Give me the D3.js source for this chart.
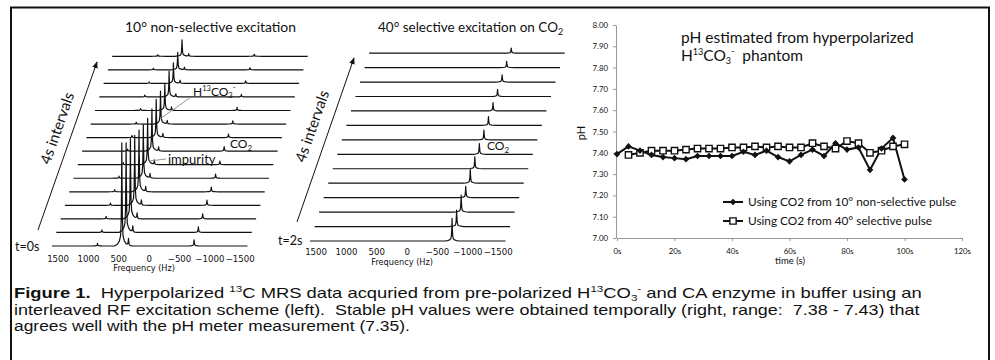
<!DOCTYPE html>
<html>
<head>
<meta charset="utf-8">
<script src="https://cdn.jsdelivr.net/npm/d3@7"></script>
<style>
  body { margin: 0; background: #fff; }
  svg { display: block; }
  text { font-family: Lato, "Open Sans", sans-serif; fill: #111; }
  .cap text { font-family: "Liberation Sans", Arial, sans-serif; white-space: pre; }
  .freq { font-family: "DejaVu Sans", sans-serif; }
</style>
</head>
<body>
<svg id="fig" width="995" height="360"></svg>
<script>
// ---- spectra data (heights in arbitrary units, t=0s / t=2s first) ----
const freqTicks = [1500, 1000, 500, 0, -500, -1000, -1500];
const lineOffsets = [-120, -70, -40, -20, -10, -4, 0, 4, 10, 20, 40, 70, 120];   // Hz from peak centre
const lineShape   = [0, 0.02, 0.05, 0.1, 0.25, 0.6, 1, 0.6, 0.25, 0.1, 0.05, 0.02, 0];

const nsBicarb   = [100, 87, 78, 68, 60, 52, 45, 41, 37, 32, 26, 25, 20, 17, 16];
const nsImpurity = [7, 6, 5.5, 5, 5, 4.5, 4.5, 4, 4, 3.5, 3.5, 3, 3, 2.5, 2.5];
const nsCO2      = [6, 5.5, 5, 5, 4.5, 4, 3.5, 4.5, 3.5, 3, 3, 2.5, 2.5, 2, 2];
const nsMinor    = [2.5, 2.5, 2.5, 2.2, 2.2, 2, 2, 2, 2, 1.8, 1.8, 1.8, 1.5, 1.5, 1.5];
const selCO2     = [22, 16, 16.5, 11, 13.5, 11.5, 10.5, 9.5, 8.5, 8, 7, 7, 6, 5];

// ---- pH data ----
const timeNonSel = [0, 4, 8, 12, 16, 20, 24, 28, 32, 36, 40, 44, 48, 52, 56, 60, 64, 68, 72, 76, 80, 84, 88, 92, 96, 100];
const phNonSel   = [7.394, 7.43, 7.41, 7.39, 7.38, 7.375, 7.37, 7.385, 7.385, 7.385, 7.385, 7.405, 7.39, 7.41, 7.38, 7.36,
                    7.39, 7.415, 7.385, 7.445, 7.415, 7.425, 7.32, 7.42, 7.47, 7.275];
const timeSel    = [4, 8, 12, 16, 20, 24, 28, 32, 36, 40, 44, 48, 52, 56, 60, 64, 68, 72, 76, 80, 84, 88, 92, 96, 100];
const phSel      = [7.39, 7.40, 7.41, 7.41, 7.41, 7.415, 7.42, 7.42, 7.42, 7.425, 7.425, 7.43, 7.425, 7.43, 7.425,
                    7.425, 7.445, 7.43, 7.42, 7.455, 7.445, 7.40, 7.41, 7.43, 7.44];
const phTicks    = [7.0, 7.1, 7.2, 7.3, 7.4, 7.5, 7.6, 7.7, 7.8, 7.9, 8.0];
const timeTicks  = [0, 20, 40, 60, 80, 100, 120];

const svg = d3.select("#fig");

// frame (bottom edge falls outside the picture)
svg.append("rect")
  .attr("x", 11).attr("y", 7.5).attr("width", 978).attr("height", 370)
  .attr("fill", "none").attr("stroke", "#111").attr("stroke-width", 2);

// ---- waterfall spectra ----
const fx = d3.scaleLinear().domain([1600, -1620]).range([0, 195.5]);
const amp = d3.scaleLinear().domain([0, 100]).range([0, 103]);
const shape = d3.scaleLinear().domain(lineOffsets).range(lineShape).clamp(true);

function drawStack(cfg) {
  const g = svg.append("g");
  const n = cfg.peaks[0].heights.length;
  const sx = d3.scaleLinear().domain([0, n - 1]).range([cfg.x0, cfg.x0 + cfg.stepX * (n - 1)]);
  const sy = d3.scaleLinear().domain([0, n - 1]).range([cfg.y0, cfg.y0 - cfg.stepY * (n - 1)]);

  // sample frequencies: trace ends plus every peak's line-shape knots
  let freqs = [fx.domain()[0], fx.domain()[1]];
  cfg.peaks.forEach(p => lineOffsets.forEach(o => freqs.push(p.freq + o)));
  freqs = Array.from(new Set(freqs)).sort((a, b) => b - a);

  const line = d3.line().x(d => d[0]).y(d => d[1]);
  for (let i = n - 1; i >= 0; i--) {
    const pts = freqs.map(f => {
      const h = d3.sum(cfg.peaks, p => p.heights[i] * shape(f - p.freq));
      return [sx(i) + fx(f), sy(i) - amp(h)];
    });
    g.append("path").attr("d", line(pts))
      .attr("fill", "none").attr("stroke", "#111").attr("stroke-width", 1.2)
      .attr("stroke-linejoin", "round");
  }

  // frequency labels under the first trace
  g.selectAll("text.freq").data(freqTicks).enter().append("text")
    .attr("class", "freq")
    .attr("x", d => cfg.x0 + fx(d)).attr("y", cfg.labelY)
    .attr("text-anchor", "middle").attr("font-size", 8.6)
    .text(d => d < 0 ? "\u2212" + Math.abs(d) : d);
  g.append("text").attr("class", "freq")
    .attr("x", cfg.x0 + fx(0) - 5).attr("y", cfg.labelY + 9.5)
    .attr("text-anchor", "middle").attr("font-size", 8.2)
    .text("Frequency (Hz)");

  // time arrow
  g.append("line")
    .attr("x1", cfg.arrow[0]).attr("y1", cfg.arrow[1]).attr("x2", cfg.arrow[2]).attr("y2", cfg.arrow[3])
    .attr("stroke", "#111").attr("stroke-width", 1).attr("marker-end", "url(#arr)");
  g.append("text")
    .attr("transform", `translate(${cfg.arrowText[0]},${cfg.arrowText[1]}) rotate(-70.8)`)
    .attr("text-anchor", "middle").attr("font-size", 15)
    .text("4s intervals");
  g.append("text").attr("x", cfg.tLabel[0]).attr("y", cfg.tLabel[1]).attr("font-size", 12.5).text(cfg.tText);
  return g;
}

svg.append("defs").append("marker")
  .attr("id", "arr").attr("viewBox", "0 0 10 10").attr("refX", 9).attr("refY", 5)
  .attr("markerWidth", 7).attr("markerHeight", 7).attr("orient", "auto")
  .append("path").attr("d", "M0,1 L10,5 L0,9 Z").attr("fill", "#111");

drawStack({
  x0: 52, y0: 246, stepX: 4.3, stepY: 13.55, labelY: 261.5,
  peaks: [
    { freq: 450, heights: nsBicarb },
    { freq: 340, heights: nsImpurity },
    { freq: -740, heights: nsCO2 },
    { freq: 850, heights: nsMinor }
  ],
  arrow: [38, 230, 97, 62], arrowText: [62, 130], tLabel: [15, 250.5], tText: "t=0s"
});

drawStack({
  x0: 310, y0: 241, stepX: 4.55, stepY: 14.45, labelY: 255,
  peaks: [{ freq: -740, heights: selCO2 }],
  arrow: [297, 222, 354, 58], arrowText: [317, 128], tLabel: [278, 244.5], tText: "t=2s"
});

// panel titles
svg.append("text").attr("x", 125).attr("y", 32).attr("font-size", 13.5)
  .attr("textLength", 171).attr("lengthAdjust", "spacingAndGlyphs")
  .text("10\u00b0 non-selective excitation");
const t2 = svg.append("text").attr("x", 378).attr("y", 32).attr("font-size", 13.5);
t2.append("tspan").text("40\u00b0 selective excitation on CO");
t2.append("tspan").attr("font-size", 9).attr("dy", 2.5).text("2");

// annotations on the 10° panel
svg.append("line").attr("x1", 191).attr("y1", 97).attr("x2", 160).attr("y2", 119)
  .attr("stroke", "#888").attr("stroke-width", 0.9);
const hl = svg.append("text").attr("x", 193).attr("y", 96).attr("font-size", 12);
hl.append("tspan").text("H");
hl.append("tspan").attr("font-size", 7.5).attr("dy", -5).text("13");
hl.append("tspan").attr("dy", 5).text("CO");
hl.append("tspan").attr("font-size", 7.5).attr("dy", 2).text("3");
hl.append("tspan").attr("font-size", 7.5).attr("dy", -8).text("-");

svg.append("line").attr("x1", 166).attr("y1", 159).attr("x2", 149).attr("y2", 161)
  .attr("stroke", "#888").attr("stroke-width", 0.9);
svg.append("text").attr("x", 168).attr("y", 164).attr("font-size", 13).text("impurity");

function co2Label(x, y) {
  const t = svg.append("text").attr("x", x).attr("y", y).attr("font-size", 12);
  t.append("tspan").text("CO");
  t.append("tspan").attr("font-size", 8).attr("dy", 2.5).text("2");
}
co2Label(230, 148);
co2Label(487, 150);

// ---- pH chart ----
const x = d3.scaleLinear().domain([0, 120]).range([617, 962]);
const y = d3.scaleLinear().domain([7, 8]).range([238, 25]);

const ax = svg.append("g").attr("transform", "translate(616,0)")
  .call(d3.axisLeft(y).tickValues(phTicks).tickFormat(d3.format(".2f")).tickSize(3).tickSizeOuter(0).tickPadding(5));
const bx = svg.append("g").attr("transform", "translate(0,238)")
  .call(d3.axisBottom(x).tickValues(timeTicks).tickFormat(d => d + "s").tickSize(3).tickSizeOuter(0).tickPadding(7));
[ax, bx].forEach(a => {
  a.select(".domain").attr("stroke", "#999");
  a.selectAll(".tick line").attr("stroke", "#999");
  a.selectAll(".tick text").attr("font-family", "Lato, sans-serif").attr("font-size", 7.8).attr("fill", "#222");
});

svg.append("text").attr("transform", "translate(585,133) rotate(-90)")
  .attr("text-anchor", "middle").attr("font-size", 11).text("pH");
svg.append("text").attr("x", 790).attr("y", 264).attr("text-anchor", "middle").attr("font-size", 9.5).text("time (s)");

const tt = svg.append("text").attr("x", 681).attr("y", 43).attr("font-size", 15.5);
tt.append("tspan").text("pH estimated from hyperpolarized");
const tt2 = svg.append("text").attr("x", 681).attr("y", 61).attr("font-size", 15.5);
tt2.append("tspan").text("H");
tt2.append("tspan").attr("font-size", 9).attr("dy", -6).text("13");
tt2.append("tspan").attr("dy", 6).text("CO");
tt2.append("tspan").attr("font-size", 9).attr("dy", 3).text("3");
tt2.append("tspan").attr("font-size", 9).attr("dy", -10).text("-");
tt2.append("tspan").attr("dy", 7).text("  phantom").style("white-space", "pre");

const diamond = d3.symbol().type(d3.symbolSquare).size(22);
const square = d3.symbol().type(d3.symbolSquare).size(40);
const pline = d3.line().x(d => x(d[0])).y(d => y(d[1]));

const s1 = d3.zip(timeNonSel, phNonSel);
const s2 = d3.zip(timeSel, phSel);

svg.append("path").attr("d", pline(s2)).attr("fill", "none").attr("stroke", "#111").attr("stroke-width", 2);
svg.append("path").attr("d", pline(s1)).attr("fill", "none").attr("stroke", "#111").attr("stroke-width", 2);
svg.selectAll("path.sq").data(s2).enter().append("path").attr("class", "sq")
  .attr("d", square).attr("transform", d => `translate(${x(d[0])},${y(d[1])})`)
  .attr("fill", "#fff").attr("stroke", "#111").attr("stroke-width", 1.4);
svg.selectAll("path.dm").data(s1).enter().append("path").attr("class", "dm")
  .attr("d", diamond).attr("transform", d => `translate(${x(d[0])},${y(d[1])}) rotate(45)`)
  .attr("fill", "#111");

// legend
const legend = [
  { label: "Using CO2 from 10\u00b0 non-selective pulse", sym: "d", y: 202 },
  { label: "Using CO2 from 40\u00b0 selective pulse", sym: "s", y: 221 }
];
legend.forEach(l => {
  svg.append("line").attr("x1", 723).attr("x2", 743).attr("y1", l.y).attr("y2", l.y)
    .attr("stroke", "#111").attr("stroke-width", 2);
  if (l.sym === "d") {
    svg.append("path").attr("d", diamond).attr("transform", `translate(733,${l.y}) rotate(45)`).attr("fill", "#111");
  } else {
    svg.append("path").attr("d", square).attr("transform", `translate(733,${l.y})`)
      .attr("fill", "#fff").attr("stroke", "#111").attr("stroke-width", 1.4);
  }
  svg.append("text").attr("x", 748).attr("y", l.y + 4).attr("font-size", 11.8).text(l.label);
});

// ---- caption: glyphs are wide in the source, so each line is stretched horizontally ----
const cap = svg.append("g").attr("class", "cap");
const capSize = 15;
const c1 = cap.append("text").attr("x", 14).attr("y", 298.5).attr("font-size", capSize);
c1.append("tspan").attr("font-weight", "bold").text("Figure 1.");
c1.append("tspan").text("  Hyperpolarized ");
c1.append("tspan").attr("font-size", 9.5).attr("dy", -6).text("13");
c1.append("tspan").attr("dy", 6).text("C MRS data acquried from pre-polarized H");
c1.append("tspan").attr("font-size", 9.5).attr("dy", -6).text("13");
c1.append("tspan").attr("dy", 6).text("CO");
c1.append("tspan").attr("font-size", 9.5).attr("dy", 3).text("3");
c1.append("tspan").attr("font-size", 9.5).attr("dy", -9).text("-");
c1.append("tspan").attr("dy", 6).text(" and CA enzyme in buffer using an");
const c2 = cap.append("text").attr("x", 14).attr("y", 315).attr("font-size", capSize)
  .text("interleaved RF excitation scheme (left).  Stable pH values were obtained temporally (right, range:  7.38 - 7.43) that");
const c3 = cap.append("text").attr("x", 14).attr("y", 331.5).attr("font-size", capSize)
  .text("agrees well with the pH meter measurement (7.35).");

const k1 = 908 / c1.node().getComputedTextLength();
const k2 = 906 / c2.node().getComputedTextLength();
const k3 = Math.min(k1, k2) * 0.97;
[[c1, k1], [c2, k2], [c3, k3]].forEach(([t, k]) =>
  t.attr("transform", `translate(14,0) scale(${k},1) translate(-14,0)`));
</script>
</body>
</html>
